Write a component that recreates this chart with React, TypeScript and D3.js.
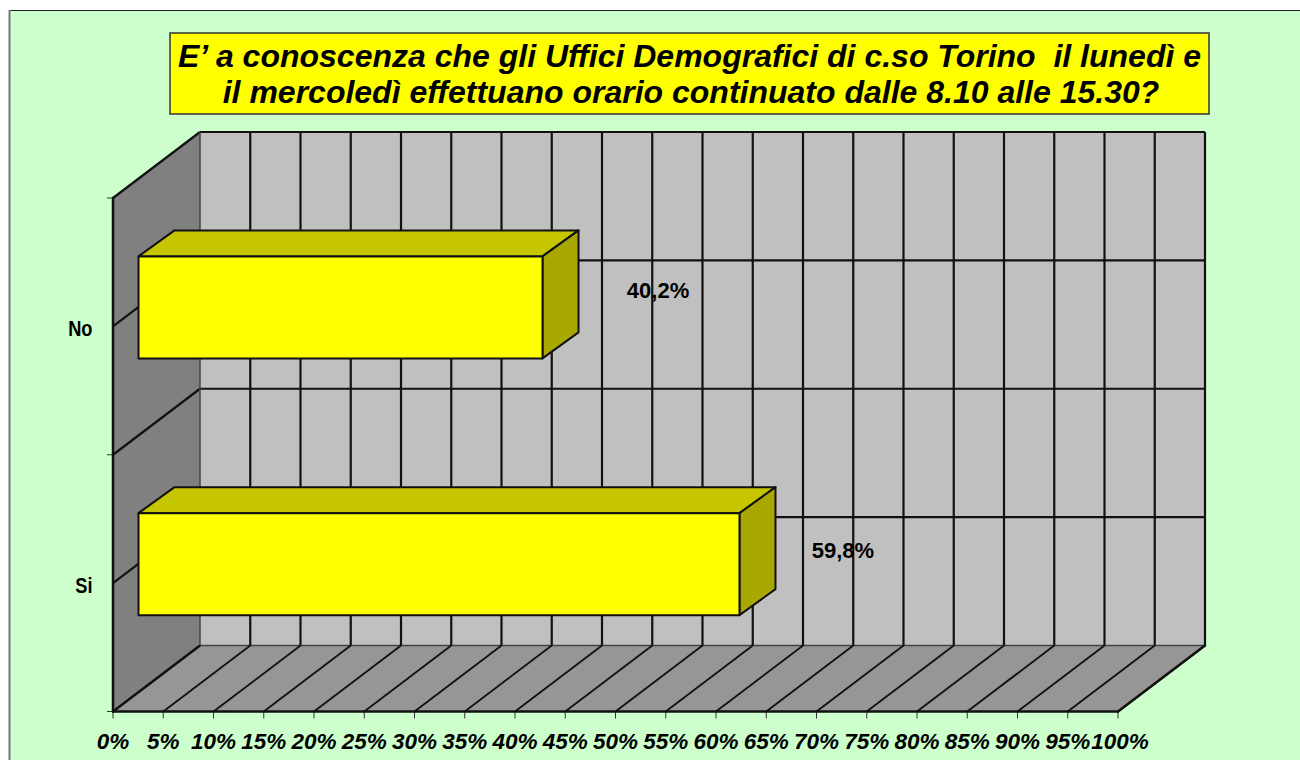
import React from 'react'
import * as d3 from 'd3'

const categories = ['No', 'Si']
const values = [40.2, 59.8]
const valueLabels = ['40,2%', '59,8%']
const tickValues = d3.range(0, 101, 5)
const titleLines = [
  'E’ a conoscenza che gli Uffici Demografici di c.so Torino  il lunedì e',
  'il mercoledì effettuano orario continuato dalle 8.10 alle 15.30?',
]

const width = 1300
const height = 760
const font = '"Liberation Sans", Arial, sans-serif'

// front edge of the 3d box, the back wall sits at +depthX / +depthY
const x = d3.scaleLinear().domain([0, 100]).range([113, 1118])
const y = d3.scaleBand().domain(categories).range([198, 711.5]).paddingInner(0)
const depthX = 87
const depthY = -66

// bar sits part way into the floor
const barInX = 25.5
const barInY = -19
const barDepthX = 36
const barDepthY = -26
const barHeight = 102

// the labels do not sit at a constant distance from the bars in the original
const labelDx = [141, 129]
const labelDy = [-28, -25]

const line = d3.line()
const poly = (pts: [number, number][]) => line(pts) + 'Z'

export default function App() {
  const x0 = x(0)
  const x100 = x(100)
  const top = y.range()[0]
  const bottom = y.range()[1]
  const band = y.bandwidth()
  const yStops = [top, top + band / 2, top + band, top + band * 1.5, bottom]

  return (
    <svg
      width={width}
      height={height}
      style={{position: 'absolute', left: 0, top: 0}}
      fontFamily={font}
    >
      <rect x={9.5} y={10.5} width={1300} height={760} fill="#CCFFCC" stroke="#222" strokeWidth={1} />
      <line x1={9.5} y1={10} x2={9.5} y2={760} stroke="#777" strokeWidth={2} />

      <rect x={170} y={33} width={1039} height={81} fill="#FFFF00" stroke="#333" strokeWidth={1.5} />
      {titleLines.map((t, i) => (
        <text
          key={i}
          x={689.5 + i * 1.5}
          y={67 + i * 36}
          textAnchor="middle"
          fontSize={32}
          fontWeight="bold"
          fontStyle="italic"
          style={{whiteSpace: 'pre'}}
        >
          {t}
        </text>
      ))}

      {/* walls */}
      <path
        d={poly([
          [x0, top],
          [x0 + depthX, top + depthY],
          [x0 + depthX, bottom + depthY],
          [x0, bottom],
        ])}
        fill="#808080"
      />
      <rect
        x={x0 + depthX}
        y={top + depthY}
        width={x100 - x0}
        height={bottom - top}
        fill="#C0C0C0"
      />
      <path
        d={poly([
          [x0, bottom],
          [x100, bottom],
          [x100 + depthX, bottom + depthY],
          [x0 + depthX, bottom + depthY],
        ])}
        fill="#969696"
      />

      {/* horizontal grid, left wall and back wall */}
      {yStops.map((s, i) => (
        <g key={i} stroke="#111" strokeWidth={2.2}>
          <line x1={x0} y1={s} x2={x0 + depthX} y2={s + depthY} />
          <line
            x1={x0 + depthX}
            y1={s + depthY}
            x2={x100 + depthX}
            y2={s + depthY}
            stroke={i === 4 ? '#444' : '#111'}
            strokeWidth={i === 4 ? 1.5 : 2.2}
          />
          {i % 2 === 0 && <line x1={x0 - 6} y1={s} x2={x0} y2={s} strokeWidth={1} stroke="#333" />}
        </g>
      ))}

      {/* vertical grid, back wall and floor */}
      {tickValues.map((t) => (
        <g key={t} stroke="#111" strokeWidth={2.2}>
          <line
            x1={x(t) + depthX}
            y1={top + depthY}
            x2={x(t) + depthX}
            y2={bottom + depthY}
            stroke={t === 0 ? '#444' : '#111'}
            strokeWidth={t === 0 ? 1.5 : 2.2}
          />
          <line x1={x(t)} y1={bottom} x2={x(t) + depthX} y2={bottom + depthY} strokeWidth={1.8} />
          <line x1={x(t)} y1={bottom} x2={x(t)} y2={bottom + 7} strokeWidth={1} stroke="#333" />
        </g>
      ))}

      {/* heavy outline of the box */}
      <g stroke="#111" strokeWidth={2.5} strokeLinecap="round">
        <line x1={x0} y1={top} x2={x0} y2={bottom} />
        <line x1={x0} y1={bottom} x2={x100} y2={bottom} />
        <line x1={x100} y1={bottom} x2={x100 + depthX} y2={bottom + depthY} />
      </g>

      {/* bars */}
      {categories.map((c, i) => {
        const left = x0 + barInX
        const right = x(values[i]) + barInX
        const mid = y(c)! + band / 2 + barInY
        const t = mid - barHeight / 2
        const b = mid + barHeight / 2
        return (
          <g key={c} stroke="#111" strokeWidth={2} strokeLinejoin="round">
            <path
              d={poly([
                [left, t],
                [left + barDepthX, t + barDepthY],
                [right + barDepthX, t + barDepthY],
                [right, t],
              ])}
              fill="#C6C600"
            />
            <path
              d={poly([
                [right, t],
                [right + barDepthX, t + barDepthY],
                [right + barDepthX, b + barDepthY],
                [right, b],
              ])}
              fill="#A8A800"
            />
            <rect x={left} y={t} width={right - left} height={barHeight} fill="#FFFF00" />
          </g>
        )
      })}

      {/* value labels */}
      {categories.map((c, i) => (
        <text
          key={c}
          x={x(values[i]) + labelDx[i]}
          y={y(c)! + band / 2 + labelDy[i]}
          textAnchor="middle"
          fontSize={22}
          fontWeight="bold"
        >
          {valueLabels[i]}
        </text>
      ))}

      {/* category labels, squeezed sideways like the original */}
      {categories.map((c) => (
        <text
          key={c}
          transform={`translate(92.5,${y(c)! + band / 2 + 9.5}) scale(0.83,1)`}
          textAnchor="end"
          fontSize={22}
          fontWeight="bold"
        >
          {c}
        </text>
      ))}

      {/* x tick labels, the last one pushed right so it clears 95% */}
      {tickValues.map((t) => (
        <text
          key={t}
          x={x(t) + (t === 100 ? 2 : 0)}
          y={749}
          textAnchor="middle"
          fontSize={22.5}
          fontWeight="bold"
          fontStyle="italic"
        >
          {t}%
        </text>
      ))}
    </svg>
  )
}
